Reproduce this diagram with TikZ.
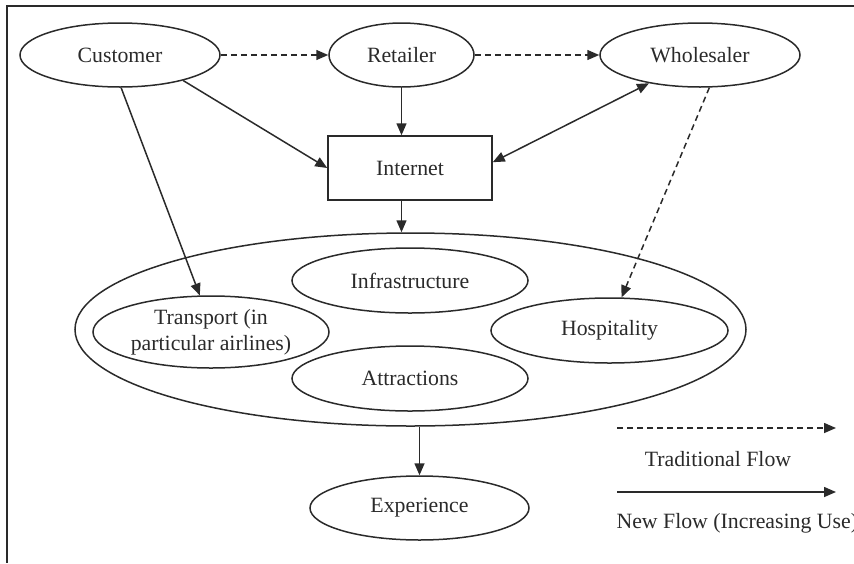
\documentclass[tikz,border=0pt]{standalone}
\usepackage{fontspec}
\setmainfont{Liberation Serif}
\usetikzlibrary{shapes.geometric,arrows.meta}

\definecolor{ink}{HTML}{2A2A2A}

\tikzset{
  lbl/.style={font=\fontsize{21.8}{26}\selectfont, text=ink},
  oval/.style={ellipse, draw=ink, line width=1.5pt, inner sep=0pt, lbl, align=center},
  box/.style={rectangle, draw=ink, line width=1.5pt, inner sep=0pt, lbl},
  flow/.style={draw=ink, line width=1.5pt, -{Triangle[length=12pt,width=10pt]}},
  twoway/.style={draw=ink, line width=1.5pt, {Triangle[length=12pt,width=10pt]}-{Triangle[length=12pt,width=10pt]}},
  trad/.style={flow, dash pattern=on 6pt off 4pt},
}

\begin{document}
\begin{tikzpicture}[x=1pt, y=-1pt]
  \useasboundingbox (0,0) rectangle (854,563);

  % frame (top and left edges)
  \draw[line width=2.2pt, ink] (854,6) -- (7,6) -- (7,563);

  % top row
  \node[oval, minimum width=200pt, minimum height=64pt] (cust)  at (120,55)   {Customer};
  \node[oval, minimum width=145pt, minimum height=64pt] (ret)   at (401.5,55) {Retailer};
  \node[oval, minimum width=200pt, minimum height=64pt] (whole) at (700,55)   {Wholesaler};

  % internet
  \node[box, minimum width=164pt, minimum height=64pt] (inet) at (410,168) {Internet};

  % destination sectors
  \node[oval, minimum width=671pt, minimum height=193pt] (dest) at (410.5,329.5) {};
  \node[oval, minimum width=236pt, minimum height=65pt] (infra) at (410,280.5) {Infrastructure};
  \node[oval, minimum width=236pt, minimum height=72pt] (trans) at (211,332) {Transport (in\\particular airlines)};
  \node[oval, minimum width=236pt, minimum height=65pt] (attr)  at (410,378.5) {Attractions};
  \node[oval, minimum width=237pt, minimum height=65pt] (hosp)  at (609.5,330.5) {Hospitality};

  % outcome
  \node[oval, minimum width=219pt, minimum height=64pt] (exp) at (419.5,508) {Experience};

  % traditional flows
  \draw[trad] (cust.east) -- (ret.west);
  \draw[trad] (ret.east) -- (whole.west);
  \draw[trad] (whole.-74) -- (hosp.70);

  % new flows
  \draw[flow] (cust.-22) -- (inet.west);
  \draw[flow] (ret.south) -- (ret.south |- inet.north);
  \draw[twoway] (inet.4) -- (whole.209);
  \draw[flow] (ret.south |- inet.south) -- (ret.south |- dest.north);
  \draw[flow] (cust.-88) -- (trans.107);
  \draw[flow] (exp.north |- dest.south) -- (exp.north);

  % legend
  \coordinate (la) at (617,428);
  \coordinate (lb) at (836,428);
  \coordinate (lc) at (617,492);
  \coordinate (ld) at (836,492);
  \draw[trad] (la) -- (lb);
  \node[lbl] (tradlbl) at (718,459) {Traditional Flow};
  \draw[flow] (lc) -- (ld);
  \node[lbl, anchor=west] (newlbl) at (613,523) {New Flow (Increasing Use)};
\end{tikzpicture}
\end{document}
